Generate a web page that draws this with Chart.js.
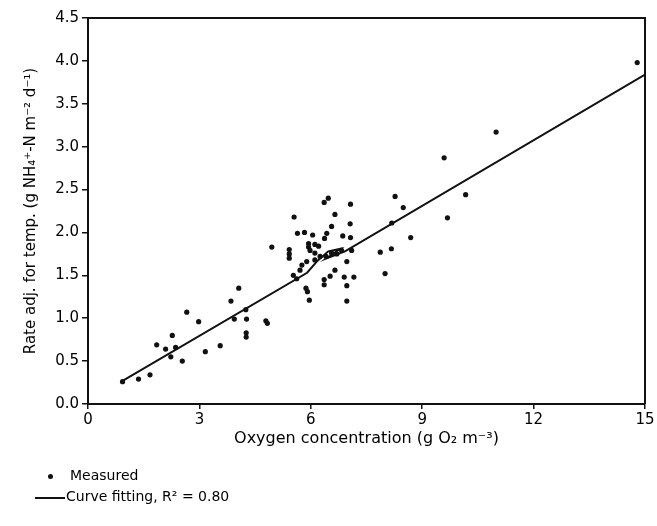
<!DOCTYPE html>
<html>
<head>
<meta charset="utf-8">
<script src="https://cdn.jsdelivr.net/npm/chart.js@4/dist/chart.umd.min.js"></script>
<style>
  body { margin: 0; background: #fff; }
  #wrap { position: relative; width: 657px; height: 526px; }
  #legend { position: absolute; left: 0; top: 0; font-family: 'DejaVu Sans', sans-serif; font-size: 14px; color: #000; }
  .legend_row { position: absolute; white-space: nowrap; }
  .legend_dot { position: absolute; width: 5px; height: 5px; border-radius: 50%; background: #111; }
  .legend_line { position: absolute; height: 2px; background: #111; }
</style>
</head>
<body>
<div id="wrap">
  <canvas id="chart" width="657" height="526"></canvas>
  <div id="legend">
    <div class="legend_dot" style="left:48px; top:474px;"></div>
    <div class="legend_row" style="left:70px; top:467px;">Measured</div>
    <div class="legend_line" style="left:35px; width:30px; top:497px;"></div>
    <div class="legend_row" style="left:66px; top:488px;">Curve fitting, R² = 0.80</div>
  </div>
</div>
<script>
// measured points (oxygen g O2 m-3, rate g NH4-N m-2 d-1)
const measured_x = [
  0.93, 1.36, 1.67, 1.85, 2.09, 2.23, 2.27, 2.36, 2.54, 2.66,
  2.98, 3.16, 3.56, 3.85, 3.94, 4.06, 4.25, 4.27, 4.26, 4.26,
  4.79, 4.83, 4.95, 5.42, 5.42, 5.42, 5.53, 5.62, 5.55, 5.64,
  5.83, 5.71, 5.76, 5.87, 5.91, 5.96, 5.89, 5.94, 5.94, 5.98,
  6.05, 6.11, 6.11, 6.11, 6.21, 6.25, 6.36, 6.47, 6.43, 6.37,
  6.41, 6.36, 6.36, 6.52, 6.56, 6.56, 6.65, 6.65, 6.70, 6.83,
  6.86, 6.90, 6.97, 6.97, 6.97, 7.06, 7.07, 7.07, 7.10, 7.16,
  7.87, 8.00, 8.17, 8.18, 8.27, 8.49, 8.69, 9.59, 9.68, 10.17,
  10.99, 14.79
];
const measured_y = [
  0.26, 0.29, 0.34, 0.69, 0.64, 0.55, 0.80, 0.66, 0.50, 1.07,
  0.96, 0.61, 0.68, 1.20, 0.99, 1.35, 1.10, 0.99, 0.83, 0.78,
  0.97, 0.94, 1.83, 1.80, 1.75, 1.70, 1.50, 1.46, 2.18, 1.99,
  2.00, 1.56, 1.62, 1.35, 1.31, 1.21, 1.66, 1.87, 1.83, 1.79,
  1.97, 1.86, 1.76, 1.68, 1.84, 1.72, 2.35, 2.40, 1.99, 1.93,
  1.72, 1.45, 1.39, 1.49, 2.07, 1.76, 2.21, 1.56, 1.75, 1.79,
  1.96, 1.48, 1.66, 1.38, 1.20, 2.10, 2.33, 1.94, 1.79, 1.48,
  1.77, 1.52, 1.81, 2.11, 2.42, 2.29, 1.94, 2.87, 2.17, 2.44,
  3.17, 3.98
];

// fitted curve as drawn (with the small loop near 6.5)
const fit_x = [0.93, 5.90, 6.16, 6.47, 6.79, 6.43, 6.92, 15.0];
const fit_y = [0.27, 1.53, 1.66, 1.78, 1.81, 1.70, 1.78, 3.84];

const x_ticks = [0, 3, 6, 9, 12, 15];
const y_ticks = [0, 0.5, 1.0, 1.5, 2.0, 2.5, 3.0, 3.5, 4.0, 4.5];

const tick_font = { family: 'DejaVu Sans', size: 15 };
const x_title_font = { family: 'DejaVu Sans', size: 16 };
const ink = '#000';

function to_points (xs, ys) {
  const points = [];
  for (let i = 0; i < xs.length; i++) {
    points.push({ x: xs[i], y: ys[i] });
  }
  return points;
}

// top and right edges of the frame
const frame_plugin = {
  id: 'frame_plugin',
  afterDraw (chart) {
    const ctx = chart.ctx;
    const area = chart.chartArea;
    ctx.save();
    ctx.strokeStyle = '#111';
    ctx.lineWidth = 2;
    ctx.beginPath();
    ctx.moveTo(area.left, area.top);
    ctx.lineTo(area.right, area.top);
    ctx.lineTo(area.right, area.bottom);
    ctx.stroke();
    ctx.restore();
  }
};

const canvas = document.getElementById('chart');

const chart = new Chart(canvas, {
  type: 'scatter',
  data: {
    datasets: [
      {
        label: 'Measured',
        data: to_points(measured_x, measured_y),
        backgroundColor: '#111',
        borderColor: '#111',
        pointRadius: 2.6,
        pointBorderWidth: 0
      },
      {
        label: 'Curve fitting, R² = 0.80',
        type: 'line',
        data: to_points(fit_x, fit_y),
        borderColor: '#111',
        borderWidth: 2,
        pointRadius: 0,
        fill: false,
        tension: 0
      }
    ]
  },
  options: {
    responsive: false,
    animation: false,
    layout: { padding: { left: 20, top: 18, right: 12, bottom: 74 } },
    plugins: {
      legend: { display: false },
      tooltip: { enabled: false }
    },
    scales: {
      x: {
        type: 'linear',
        min: 0,
        max: 15,
        afterBuildTicks (scale) {
          scale.ticks = x_ticks.map((v) => ({ value: v }));
        },
        afterFit (scale) {
          scale.height = 48;
        },
        grid: { drawOnChartArea: false, drawTicks: true, tickLength: 5, color: '#111', lineWidth: 1.5 },
        border: { display: true, color: '#111', width: 2 },
        ticks: { font: tick_font, color: ink, padding: 2, maxRotation: 0 },
        title: {
          display: true,
          text: 'Oxygen concentration (g O₂ m⁻³)',
          font: x_title_font,
          color: ink,
          padding: { top: 2, bottom: 4 }
        }
      },
      y: {
        type: 'linear',
        min: 0,
        max: 4.5,
        afterBuildTicks (scale) {
          scale.ticks = y_ticks.map((v) => ({ value: v }));
        },
        afterFit (scale) {
          scale.width = 68;
        },
        grid: { drawOnChartArea: false, drawTicks: true, tickLength: 6, color: '#111', lineWidth: 1.5 },
        border: { display: true, color: '#111', width: 2 },
        ticks: {
          font: tick_font,
          color: ink,
          padding: 3,
          callback: (value) => value.toFixed(1)
        },
        title: {
          display: true,
          text: 'Rate adj. for temp. (g NH₄⁺-N m⁻² d⁻¹)',
          font: tick_font,
          color: ink,
          padding: 2
        }
      }
    }
  },
  plugins: [frame_plugin]
});
</script>
</body>
</html>
